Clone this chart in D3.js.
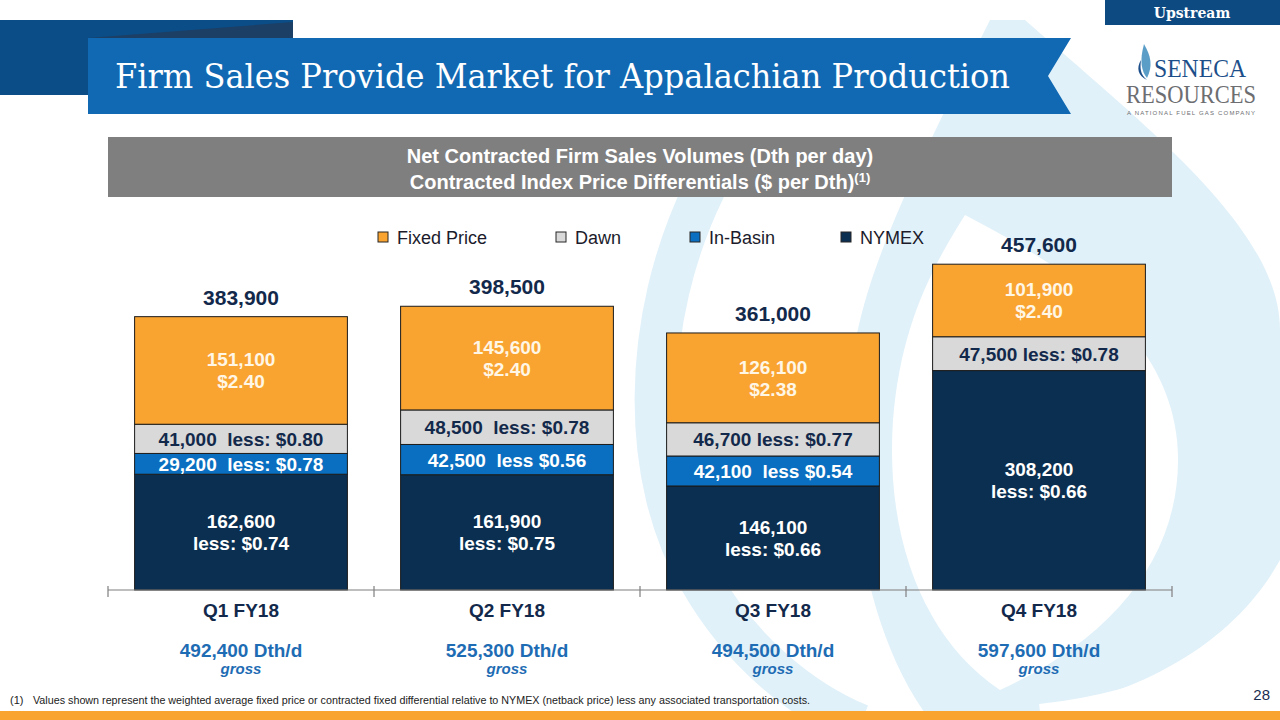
<!DOCTYPE html>
<html>
<head>
<meta charset="utf-8">
<script src="https://cdn.jsdelivr.net/npm/d3@7"></script>
<style>
  body { margin: 0; background: #fff; }
  svg { display: block; font-family: "Liberation Sans", Arial, sans-serif; }
  .pre { white-space: pre; }
</style>
</head>
<body>
<svg id="chart" width="1280" height="720"></svg>
<script>
// values
const quarters = ["Q1 FY18", "Q2 FY18", "Q3 FY18", "Q4 FY18"];
const seriesNames = ["NYMEX", "In-Basin", "Dawn", "Fixed Price"];
const nymex = [162600, 161900, 146100, 308200];
const inBasin = [29200, 42500, 42100, 0];
const dawn = [41000, 48500, 46700, 47500];
const fixedPrice = [151100, 145600, 126100, 101900];
const nymexPrice = ["less: $0.74", "less: $0.75", "less: $0.66", "less: $0.66"];
const inBasinPrice = ["  less: $0.78", "  less $0.56", "  less $0.54", ""];
const dawnPrice = ["  less: $0.80", "  less: $0.78", " less: $0.77", " less: $0.78"];
const fixedPriceText = ["$2.40", "$2.40", "$2.38", "$2.40"];
const grossVolume = [492400, 525300, 494500, 597600];
const legendOrder = ["Fixed Price", "Dawn", "In-Basin", "NYMEX"];

const colors = {
  "NYMEX": "#0b2f50",
  "In-Basin": "#0a6fc0",
  "Dawn": "#d9d9d9",
  "Fixed Price": "#f9a431"
};
const labelColor = {
  "NYMEX": "#ffffff",
  "In-Basin": "#ffffff",
  "Dawn": "#13294b",
  "Fixed Price": "#fff6e6"
};

const svg = d3.select("#chart");
const fmt = d3.format(",");
const lightBlue = "#e1f1f9";

// ---- background flame decoration
const bg = svg.append("g");
bg.append("path")
  .attr("d", "M990,20 L1025,20 C1150,130 1280,230 1280,330 L1280,560 C1230,650 1130,700 1000,720 L930,720 C870,640 850,520 850,400 C850,300 900,200 990,20 Z")
  .attr("fill", lightBlue);
bg.append("path")
  .attr("d", "M965,215 C1050,260 1178,330 1178,460 C1178,560 1110,640 1000,690 C925,640 885,540 893,420 C900,330 930,270 965,215 Z")
  .attr("fill", "#fff");
bg.append("path")
  .attr("d", "M1290,585 C1240,660 1150,700 1040,712")
  .attr("fill", "none").attr("stroke", "#fff").attr("stroke-width", 16);
bg.append("path")
  .attr("d", "M705,188 C640,320 640,480 700,580 C740,650 800,700 860,725")
  .attr("fill", "none").attr("stroke", lightBlue).attr("stroke-width", 42);

// ---- header
svg.append("path")
  .attr("d", "M0,20 L293,20 L293,95 L0,95 Z")
  .attr("fill", "#0b4d87");
svg.append("path")
  .attr("d", "M88,38 L293,22 L293,38 Z")
  .attr("fill", "#1c3f66");
svg.append("path")
  .attr("d", "M88,38 L1071,38 L1048,76 L1071,114 L88,114 Z")
  .attr("fill", "#1169b3");
svg.append("text")
  .attr("x", 115).attr("y", 88)
  .attr("textLength", 895).attr("lengthAdjust", "spacingAndGlyphs")
  .attr("fill", "#fff")
  .style("font-family", "'DejaVu Serif', serif")
  .style("font-size", "33px")
  .text("Firm Sales Provide Market for Appalachian Production");

svg.append("rect")
  .attr("x", 1105).attr("y", 0).attr("width", 175).attr("height", 25)
  .attr("fill", "#0e4a82");
svg.append("text")
  .attr("x", 1192).attr("y", 18).attr("text-anchor", "middle")
  .attr("fill", "#fff")
  .style("font-family", "'DejaVu Serif', serif")
  .style("font-weight", "bold").style("font-size", "14px")
  .text("Upstream");

// logo
const logo = svg.append("g");
logo.append("path")
  .attr("d", "M1144,44 C1151,56 1153,66 1147,78 C1142,72 1139,62 1144,44 Z")
  .attr("fill", "#5a9ec8");
logo.append("path")
  .attr("d", "M1141,60 C1136,68 1138,76 1147,80 C1140,74 1140,68 1141,60 Z")
  .attr("fill", "#1c4f8a");
logo.append("text")
  .attr("x", 1154).attr("y", 77)
  .attr("fill", "#1c4f8a")
  .style("font-family", "'Liberation Serif', serif").style("font-size", "25px")
  .attr("textLength", 92).attr("lengthAdjust", "spacingAndGlyphs")
  .text("SENECA");
logo.append("text")
  .attr("x", 1126).attr("y", 103)
  .attr("fill", "#6d6e71")
  .style("font-family", "'Liberation Serif', serif").style("font-size", "26px")
  .attr("textLength", 130).attr("lengthAdjust", "spacingAndGlyphs")
  .text("RESOURCES");
logo.append("text")
  .attr("x", 1127).attr("y", 115)
  .attr("fill", "#6d6e71")
  .style("font-size", "6px")
  .attr("textLength", 128).attr("lengthAdjust", "spacing")
  .text("A NATIONAL FUEL GAS COMPANY");

// ---- subtitle box
svg.append("rect")
  .attr("x", 108).attr("y", 137).attr("width", 1064).attr("height", 60)
  .attr("fill", "#7f7f7f");
svg.append("text")
  .attr("x", 640).attr("y", 163).attr("text-anchor", "middle")
  .attr("fill", "#fff").style("font-weight", "bold").style("font-size", "20px")
  .text("Net Contracted Firm Sales Volumes (Dth per day)");
const sub2 = svg.append("text")
  .attr("x", 640).attr("y", 189).attr("text-anchor", "middle")
  .attr("fill", "#fff").style("font-weight", "bold").style("font-size", "20px");
sub2.append("tspan").text("Contracted Index Price Differentials ($ per Dth)");
sub2.append("tspan").attr("dy", -7).style("font-size", "13px").text("(1)");

// ---- chart
const x = d3.scaleBand()
  .domain(quarters)
  .range([108, 1172])
  .paddingInner(0.2)
  .paddingOuter(0.1);

const y = d3.scaleLinear()
  .domain([0, 500000])
  .range([590, 234]);

const rows = quarters.map((q, i) => ({
  quarter: q,
  "NYMEX": nymex[i],
  "In-Basin": inBasin[i],
  "Dawn": dawn[i],
  "Fixed Price": fixedPrice[i]
}));
const labelFor = {
  "NYMEX": i => [fmt(nymex[i]), nymexPrice[i]],
  "In-Basin": i => [fmt(inBasin[i]) + inBasinPrice[i]],
  "Dawn": i => [fmt(dawn[i]) + dawnPrice[i]],
  "Fixed Price": i => [fmt(fixedPrice[i]), fixedPriceText[i]]
};

const stacked = d3.stack().keys(seriesNames)(rows);

const layers = svg.append("g").selectAll("g")
  .data(stacked)
  .join("g")
  .attr("fill", d => colors[d.key]);

layers.selectAll("rect")
  .data(d => d.filter(s => s[1] - s[0] > 0))
  .join("rect")
  .attr("x", d => x(d.data.quarter))
  .attr("y", d => y(d[1]))
  .attr("width", x.bandwidth())
  .attr("height", d => y(d[0]) - y(d[1]))
  .attr("stroke", "#1b1b1b")
  .attr("stroke-width", 1);

// segment labels
stacked.forEach(layer => {
  layer.forEach((s, i) => {
    if (s[1] - s[0] <= 0) return;
    const lines = labelFor[layer.key](i);
    const cx = x(s.data.quarter) + x.bandwidth() / 2;
    const cy = (y(s[0]) + y(s[1])) / 2;
    const lh = 22;
    const t = svg.append("text")
      .attr("class", "pre")
      .attr("text-anchor", "middle")
      .attr("fill", labelColor[layer.key])
      .style("font-weight", "bold").style("font-size", "19px");
    lines.forEach((ln, k) => {
      t.append("tspan")
        .attr("x", cx)
        .attr("y", cy + 7 + (k - (lines.length - 1) / 2) * lh)
        .text(ln);
    });
  });
});

// totals
svg.append("g").selectAll("text")
  .data(rows)
  .join("text")
  .attr("x", d => x(d.quarter) + x.bandwidth() / 2)
  .attr("y", d => y(d3.sum(seriesNames, k => d[k])) - 12)
  .attr("text-anchor", "middle")
  .attr("fill", "#13294b")
  .style("font-weight", "bold").style("font-size", "21px")
  .text(d => fmt(d3.sum(seriesNames, k => d[k])));

// axis
const axis = svg.append("g");
axis.append("line")
  .attr("x1", 108).attr("x2", 1172).attr("y1", 590).attr("y2", 590)
  .attr("stroke", "#7f7f7f").attr("stroke-width", 1.2);
const bounds = quarters.map(q => x(q) - x.step() * x.paddingInner() / 2);
bounds.push(x.range()[1]);
axis.selectAll("line.tick")
  .data(bounds)
  .join("line")
  .attr("class", "tick")
  .attr("x1", d => d).attr("x2", d => d)
  .attr("y1", 586).attr("y2", 597)
  .attr("stroke", "#7f7f7f").attr("stroke-width", 1.2);

svg.append("g").selectAll("text")
  .data(quarters)
  .join("text")
  .attr("x", d => x(d) + x.bandwidth() / 2)
  .attr("y", 617)
  .attr("text-anchor", "middle")
  .attr("fill", "#13294b")
  .style("font-weight", "bold").style("font-size", "19px")
  .text(d => d);

svg.append("g").selectAll("text")
  .data(grossVolume)
  .join("text")
  .attr("x", (d, i) => x(quarters[i]) + x.bandwidth() / 2)
  .attr("y", 657)
  .attr("text-anchor", "middle")
  .attr("fill", "#1e6cb3")
  .style("font-weight", "bold").style("font-size", "19px")
  .text(d => fmt(d) + " Dth/d");

svg.append("g").selectAll("text")
  .data(quarters)
  .join("text")
  .attr("x", d => x(d) + x.bandwidth() / 2)
  .attr("y", 674)
  .attr("text-anchor", "middle")
  .attr("fill", "#1e6cb3")
  .style("font-weight", "bold").style("font-style", "italic").style("font-size", "15px")
  .text("gross");

// legend
const legendX = [378, 556, 690, 841];
const legend = svg.append("g").selectAll("g")
  .data(legendOrder)
  .join("g")
  .attr("transform", (d, i) => `translate(${legendX[i]},232)`);
legend.append("rect")
  .attr("width", 10).attr("height", 10)
  .attr("fill", d => colors[d])
  .attr("stroke", "#262626").attr("stroke-width", 1);
legend.append("text")
  .attr("x", 19).attr("y", 12)
  .attr("fill", "#1b1b2b")
  .style("font-size", "18px")
  .text(d => d);

// footnote, page number, bottom bar
const foot = svg.append("text")
  .attr("y", 704).attr("fill", "#222")
  .style("font-size", "11px");
foot.append("tspan").attr("x", 10).text("(1)");
foot.append("tspan").attr("x", 33)
  .attr("textLength", 777).attr("lengthAdjust", "spacingAndGlyphs")
  .text("Values shown represent the weighted average fixed price or contracted fixed differential relative to NYMEX (netback price) less any associated transportation costs.");

svg.append("text")
  .attr("x", 1270).attr("y", 700).attr("text-anchor", "end")
  .attr("fill", "#1b2d4f").style("font-size", "15px")
  .text("28");

svg.append("rect")
  .attr("x", 0).attr("y", 711).attr("width", 1280).attr("height", 9)
  .attr("fill", "#f9a431");
</script>
</body>
</html>
